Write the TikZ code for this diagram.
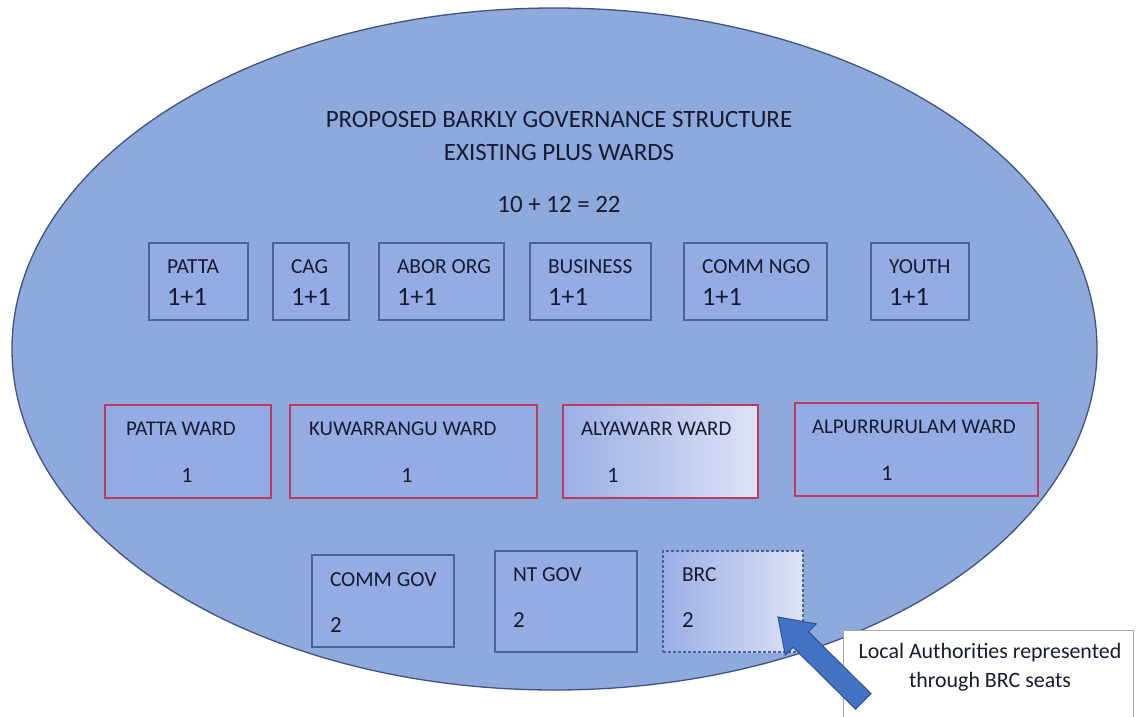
\documentclass[tikz,border=0pt]{standalone}
\usepackage{fontspec}
\setmainfont{Carlito}
\usetikzlibrary{calc}
\definecolor{ellfill}{HTML}{8EA9DB}
\definecolor{ellline}{HTML}{42527E}
\definecolor{boxfill}{HTML}{95ABE3}
\definecolor{boxline}{HTML}{4D6296}
\definecolor{wardline}{HTML}{C03A5E}
\definecolor{txt}{HTML}{161B30}
\definecolor{arrfill}{HTML}{4472C4}
\definecolor{arrline}{HTML}{2F528F}
\definecolor{fadeR}{HTML}{DDE2F6}
\begin{document}
\begin{tikzpicture}[x=1bp,y=-1bp,
  every node/.style={inner sep=0pt, outer sep=0pt, text=txt},
  box/.style={draw=boxline, line width=1.1bp, fill=boxfill, anchor=north west},
  ward/.style={draw=wardline, line width=1.3bp, fill=boxfill, anchor=north west},
  lbl/.style={anchor=west, font=\fontsize{21.5}{25}\selectfont},
  wlbl/.style={anchor=west, font=\fontsize{21}{25}\selectfont},
  num/.style={anchor=west, font=\fontsize{26.5}{30}\selectfont},
  gnum/.style={anchor=west, font=\fontsize{23}{27}\selectfont},
  wnum/.style={anchor=center, font=\fontsize{22}{26}\selectfont},
  ttl/.style={anchor=center, font=\fontsize{25}{29}\selectfont}]
\useasboundingbox (0,0) rectangle (1139,717);
\fill[white] (0,0) rectangle (1139,717);
% ellipse
\draw[ellline, line width=1.3bp, fill=ellfill] (554.5,349) ellipse [x radius=542.5, y radius=341];
% titles
\node[ttl] (t1) at (559,120) {PROPOSED BARKLY GOVERNANCE STRUCTURE};
\node[ttl] (t2) at (559,153) {EXISTING PLUS WARDS};
\node[ttl] (t3) at (559,205) {10 + 12 = 22};
% row 1
\node[box, minimum width=99bp, minimum height=77bp] (b1) at (149,243) {};
\node[box, minimum width=76bp, minimum height=77bp] (b2) at (273,243) {};
\node[box, minimum width=125bp, minimum height=77bp] (b3) at (379,243) {};
\node[box, minimum width=121bp, minimum height=77bp] (b4) at (530,243) {};
\node[box, minimum width=143bp, minimum height=77bp] (b5) at (684,243) {};
\node[box, minimum width=98bp, minimum height=77bp] (b6) at (871,243) {};
\node[lbl] (b1a) at (167,267) {PATTA};
\node[num] (b1b) at (167,297) {1+1};
\node[lbl] (b2a) at (291,267) {CAG};
\node[num] (b2b) at (291,297) {1+1};
\node[lbl] (b3a) at (397,267) {ABOR ORG};
\node[num] (b3b) at (397,297) {1+1};
\node[lbl] (b4a) at (548,267) {BUSINESS};
\node[num] (b4b) at (548,297) {1+1};
\node[lbl] (b5a) at (702,267) {COMM NGO};
\node[num] (b5b) at (702,297) {1+1};
\node[lbl] (b6a) at (889,267) {YOUTH};
\node[num] (b6b) at (889,297) {1+1};
% row 2 wards
\node[ward, minimum width=166bp, minimum height=93bp] (w1) at (105,405) {};
\node[ward, minimum width=247bp, minimum height=93bp] (w2) at (290,405) {};
\node[ward, minimum width=195bp, minimum height=93bp, left color=boxfill!95!white, right color=fadeR] (w3) at (563,405) {};
\node[ward, minimum width=243bp, minimum height=93bp] (w4) at (795,403) {};
\node[wlbl] (w1a) at (126,429) {PATTA WARD};
\node[wnum] (w1b) at (187,475) {1};
\node[wlbl] (w2a) at (309,429) {KUWARRANGU WARD};
\node[wnum] (w2b) at (407,475) {1};
\node[wlbl] (w3a) at (581,429) {ALYAWARR WARD};
\node[wnum] (w3b) at (613,475) {1};
\node[wlbl] (w4a) at (812,427) {ALPURRURULAM WARD};
\node[wnum] (w4b) at (887,473) {1};
% row 3
\node[box, minimum width=142bp, minimum height=92bp] (g1) at (312,555) {};
\node[box, minimum width=142bp, minimum height=101bp] (g2) at (495,551) {};
\node[box, dashed, dash pattern=on 3bp off 2bp, minimum width=140bp, minimum height=101bp, left color=boxfill!95!white, right color=fadeR] (g3) at (663,551) {};
\node[lbl] (g1a) at (330,580) {COMM GOV};
\node[gnum] (g1b) at (330,625) {2};
\node[lbl] (g2a) at (513,575) {NT GOV};
\node[gnum] (g2b) at (513,620) {2};
\node[lbl] (g3a) at (682,575) {BRC};
\node[gnum] (g3b) at (682,620) {2};
% callout
\node[draw=gray!70, line width=0.8bp, fill=white, anchor=north west, minimum width=290bp, minimum height=95bp] (call) at (843,630) {};
\node[anchor=center, align=center, font=\fontsize{22}{29}\selectfont] (callt) at (990,667) {Local Authorities represented\\through BRC seats};
% arrow
\coordinate (tip) at (778,617);
\draw[arrline, line width=1bp, fill=arrfill, line join=miter]
  (tip) -- (816.3,623.9) -- (808.5,631.7) -- (871.0,693.6) -- (855.6,709.2)
  -- (793.1,647.3) -- (785.3,655.1) -- cycle;
\end{tikzpicture}
\end{document}
